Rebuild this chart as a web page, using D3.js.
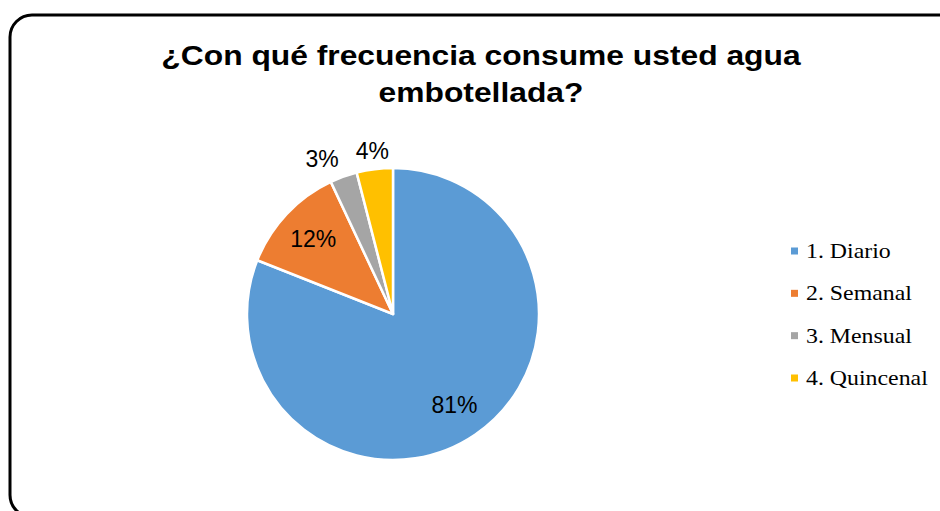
<!DOCTYPE html>
<html>
<head>
<meta charset="utf-8">
<script src="https://cdn.jsdelivr.net/npm/d3@7"></script>
<style>
  html, body { margin: 0; padding: 0; background: #fff; }
  svg { display: block; }
</style>
</head>
<body>
<svg id="chart" width="940" height="511"></svg>
<script>
// Survey answers: how often bottled water is consumed
const categories = ["1. Diario", "2. Semanal", "3. Mensual", "4. Quincenal"];
const percents = [81, 12, 3, 4];
const colors = ["#5B9BD5", "#ED7D31", "#A5A5A5", "#FFC000"];
const titleLines = ["¿Con qué frecuencia consume usted agua", "embotellada?"];

// Text in the title and legend is set slightly wide
const widen = 1.135;

const svg = d3.select("#chart");

function stretch(sel) {
  sel.each(function () {
    const w = this.getComputedTextLength();
    d3.select(this).attr("textLength", w * widen).attr("lengthAdjust", "spacingAndGlyphs");
  });
}

// Rounded chart frame
svg.append("rect")
  .attr("x", 10).attr("y", 15)
  .attr("width", 950).attr("height", 502)
  .attr("rx", 22).attr("ry", 22)
  .attr("fill", "#fff")
  .attr("stroke", "#000")
  .attr("stroke-width", 3);

// Title
svg.append("g").selectAll("text")
  .data(titleLines)
  .join("text")
  .attr("x", 481)
  .attr("y", (d, i) => 65 + i * 37)
  .attr("text-anchor", "middle")
  .attr("font-family", "Liberation Sans, Arial, sans-serif")
  .attr("font-weight", "bold")
  .attr("font-size", 28)
  .attr("fill", "#000")
  .text(d => d)
  .call(stretch);

// Pie
const cx = 393, cy = 314, r = 146;
const data = categories.map((c, i) => ({ name: c, value: percents[i], color: colors[i] }));
const pie = d3.pie().value(d => d.value).sort(null);
const arc = d3.arc().innerRadius(0).outerRadius(r);
const arcs = pie(data);

const g = svg.append("g").attr("transform", `translate(${cx},${cy})`);
g.selectAll("path")
  .data(arcs)
  .join("path")
  .attr("d", arc)
  .attr("fill", d => d.data.color)
  .attr("stroke", "#fff")
  .attr("stroke-width", 2.5)
  .attr("stroke-linejoin", "round");

// Data labels: inside for large slices, outside for the thin ones
const inner = d3.arc().innerRadius(r * 0.75).outerRadius(r * 0.75);
const outer = d3.arc().innerRadius(r * 1.13).outerRadius(r * 1.13);
const labels = arcs.map(d => {
  const isOut = d.data.value < 10;
  const p = (isOut ? outer : inner).centroid(d);
  return { arc: d, out: isOut, x: p[0], y: p[1] };
});

const labelText = g.selectAll("text.lbl")
  .data(labels)
  .join("text")
  .attr("class", "lbl")
  .attr("text-anchor", "middle")
  .attr("dy", "0.36em")
  .attr("font-family", "Liberation Sans, Arial, sans-serif")
  .attr("font-size", 23)
  .attr("fill", "#000")
  .text(d => d.arc.data.value + "%");

// Keep neighbouring outside labels from crowding: push the earlier one left
labelText.each(function (d) { d.w = this.getComputedTextLength(); });
const outs = labels.filter(d => d.out).sort((a, b) => b.x - a.x);
for (let i = 1; i < outs.length; i++) {
  const right = outs[i - 1], left = outs[i];
  const minGap = (right.w + left.w) / 2 + 17;
  if (right.x - left.x < minGap) left.x = right.x - minGap;
}
labelText.attr("transform", d => `translate(${d.x},${d.y})`);

// Legend
const legendY = d3.scalePoint().domain(categories).range([251, 378]);
const items = svg.append("g").selectAll("g")
  .data(data)
  .join("g")
  .attr("transform", d => `translate(791,${legendY(d.name)})`);
items.append("rect")
  .attr("x", 0).attr("y", -3.5)
  .attr("width", 7).attr("height", 7)
  .attr("fill", d => d.color);
items.append("text")
  .attr("x", 15).attr("y", 0)
  .attr("dy", "0.33em")
  .attr("font-family", "Liberation Serif, Times New Roman, serif")
  .attr("font-size", 21)
  .attr("fill", "#000")
  .text(d => d.name)
  .call(stretch);
</script>
</body>
</html>
